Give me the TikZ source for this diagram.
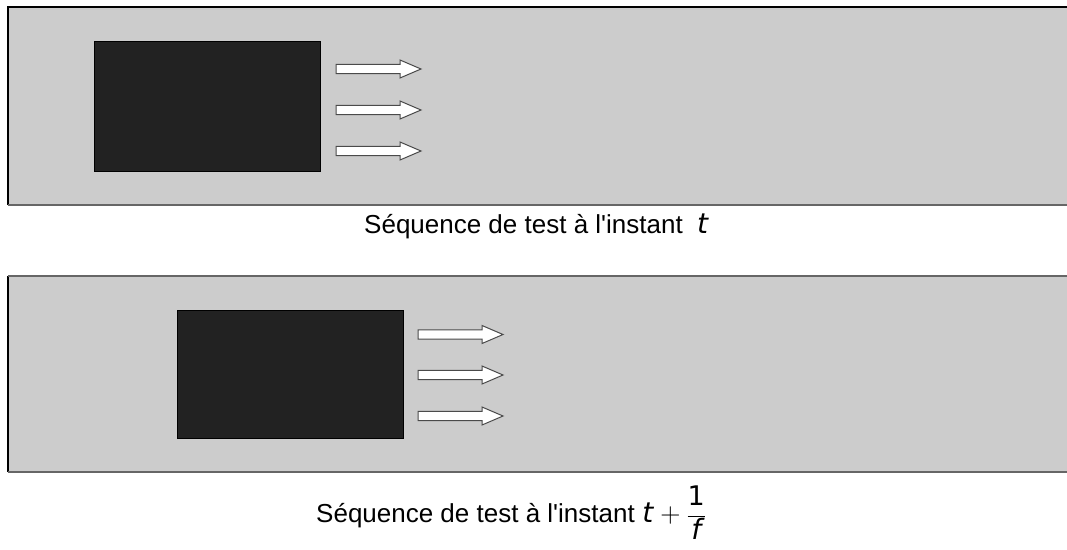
\documentclass[tikz,border=0pt]{standalone}
\usepackage{fontspec}
\setmainfont{Liberation Sans}
\newfontfamily\djv{DejaVu Sans}
\newfontfamily\lmr{Latin Modern Roman}
\begin{document}
\begin{tikzpicture}[x=1pt,y=-1pt,
  panel/.style={fill=panelgray,draw=none},
  block/.style={fill=blockdark,draw=black,line width=0.8pt},
  blockarrow/.style={fill=white,draw=arrowedge,line width=1pt,line join=miter},
  caption/.style={anchor=base west,inner sep=0pt,font=\fontsize{26}{30}\selectfont}]
\definecolor{panelgray}{HTML}{CCCCCC}
\definecolor{blockdark}{HTML}{222222}
\definecolor{arrowedge}{HTML}{4A4A4A}
\definecolor{edgegray}{HTML}{666666}
\useasboundingbox (0,0) rectangle (1067,549);
\fill[white] (0,0) rectangle (1067,549);
% panel 1
\fill[panelgray] (8,7) rectangle (1067,205);
\draw[black,line width=1.5pt] (8,205) -- (8,7) -- (1067,7);
\draw[edgegray,line width=2pt] (8,205) -- (1067,205);
% panel 2
\fill[panelgray] (8,276) rectangle (1067,472);
\draw[black,line width=1.5pt] (8,472) -- (8,276);
\draw[edgegray,line width=2pt] (8,276) -- (1067,276);
\draw[edgegray,line width=2pt] (8,472) -- (1067,472);
% dark blocks
\draw[block] (94,41) rectangle (320,171);
\draw[block] (177,310) rectangle (403,438);
% arrows
\foreach \x/\y in {336/69, 336/110, 336/151, 418/334.5, 418/375, 418/416}{
  \draw[blockarrow] (\x,\y-4.7) -- (\x+64,\y-4.7) -- (\x+64,\y-9) -- (\x+85,\y)
    -- (\x+64,\y+9) -- (\x+64,\y+4.7) -- (\x,\y+4.7) -- cycle;
}
% captions
\node[caption] (cap1) at (364,233) {Séquence de test à l\textquotesingle instant\hspace{0.55em}{\djv\itshape\fontsize{28}{30}\selectfont t}};
\node[caption] (cap2) at (316,522) {Séquence de test à l\textquotesingle instant\hspace{7.5pt}{\djv\itshape\fontsize{28}{30}\selectfont t}\hspace{7pt}{\lmr\fontsize{28}{30}\selectfont +}\hspace{6pt}$\displaystyle\frac{\hbox{\djv\fontsize{27}{30}\selectfont 1}}{\hbox{\djv\itshape\fontsize{28}{30}\selectfont f}}$};
\end{tikzpicture}
\end{document}
